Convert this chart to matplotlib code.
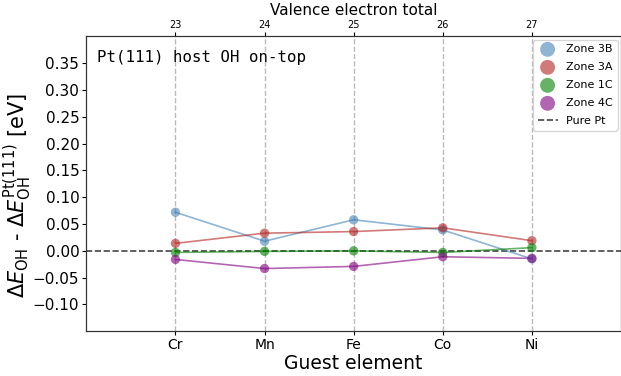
import numpy as np
import matplotlib
matplotlib.use('Agg')
import matplotlib.pyplot as plt

# guest elements and their valence electron totals
elements = ['Cr', 'Mn', 'Fe', 'Co', 'Ni']
valence = [23, 24, 25, 26, 27]

zone_3b = [0.072, 0.018, 0.058, 0.039, -0.015]
zone_3a = [0.014, 0.033, 0.036, 0.043, 0.019]
zone_1c = [-0.003, -0.001, 0.000, -0.003, 0.006]
zone_4c = [-0.016, -0.033, -0.029, -0.011, -0.014]

zones = [('Zone 3B', zone_3b, 'steelblue'),
         ('Zone 3A', zone_3a, 'firebrick'),
         ('Zone 1C', zone_1c, 'green'),
         ('Zone 4C', zone_4c, 'purple')]

fig = plt.figure(figsize=[6.21, 3.76], dpi=100)
ax = fig.add_axes([0.139, 0.119, 0.861, 0.784])

x = np.arange(1, len(elements) + 1)
for label, vals, col in zones:
    ax.plot(x, vals, color=col, alpha=0.6, linewidth=1.2, zorder=3)
    ax.scatter(x, vals, s=45, color=col, alpha=0.6, label=label, zorder=4, edgecolors='none')

ax.axhline(0, color='#444444', linestyle='--', linewidth=1.2, label='Pure Pt', zorder=2)
for xi in x:
    ax.axvline(xi, color='#bbbbbb', linestyle='--', linewidth=1, zorder=1)

yt = np.arange(-0.10, 0.36, 0.05)
ax.set_xlim([0, 6])
ax.set_ylim([-0.15, 0.40])
ax.set_xticks(x)
ax.set_xticklabels(elements, fontsize=10)
ax.set_yticks(yt)
ax.set_yticklabels(['%.2f' % abs(v) if v > -0.001 else '\u2212%.2f' % -v for v in yt], fontsize=11)
ax.tick_params(length=3, pad=2)
ax.set_xlabel('Guest element', fontsize=13.5, labelpad=1)
ax.set_ylabel(r'$\Delta E_{\mathrm{OH}}$ - $\Delta E_{\mathrm{OH}}^{\mathrm{Pt(111)}}$ [eV]', fontsize=15)
ax.yaxis.set_label_coords(-0.097, 0.46)

ax2 = ax.twiny()
ax2.set_xlim(ax.get_xlim())
ax2.set_xticks(x)
ax2.set_xticklabels(valence, fontsize=7)
ax2.tick_params(length=3, pad=2)
ax2.set_xlabel('Valence electron total', fontsize=11, labelpad=3)

for a in [ax, ax2]:
    for s in a.spines.values():
        s.set_color('#333333')
        s.set_linewidth(0.8)

ax.text(0.02, 0.955, 'Pt(111) host OH on-top', transform=ax.transAxes,
        family='monospace', fontsize=11.3, va='top')

ax.legend(loc='upper right', fontsize=8, scatterpoints=1, markerscale=1.6,
          handlelength=1.8, borderaxespad=0.3, labelspacing=0.72)

plt.savefig('out.png', dpi=100)
